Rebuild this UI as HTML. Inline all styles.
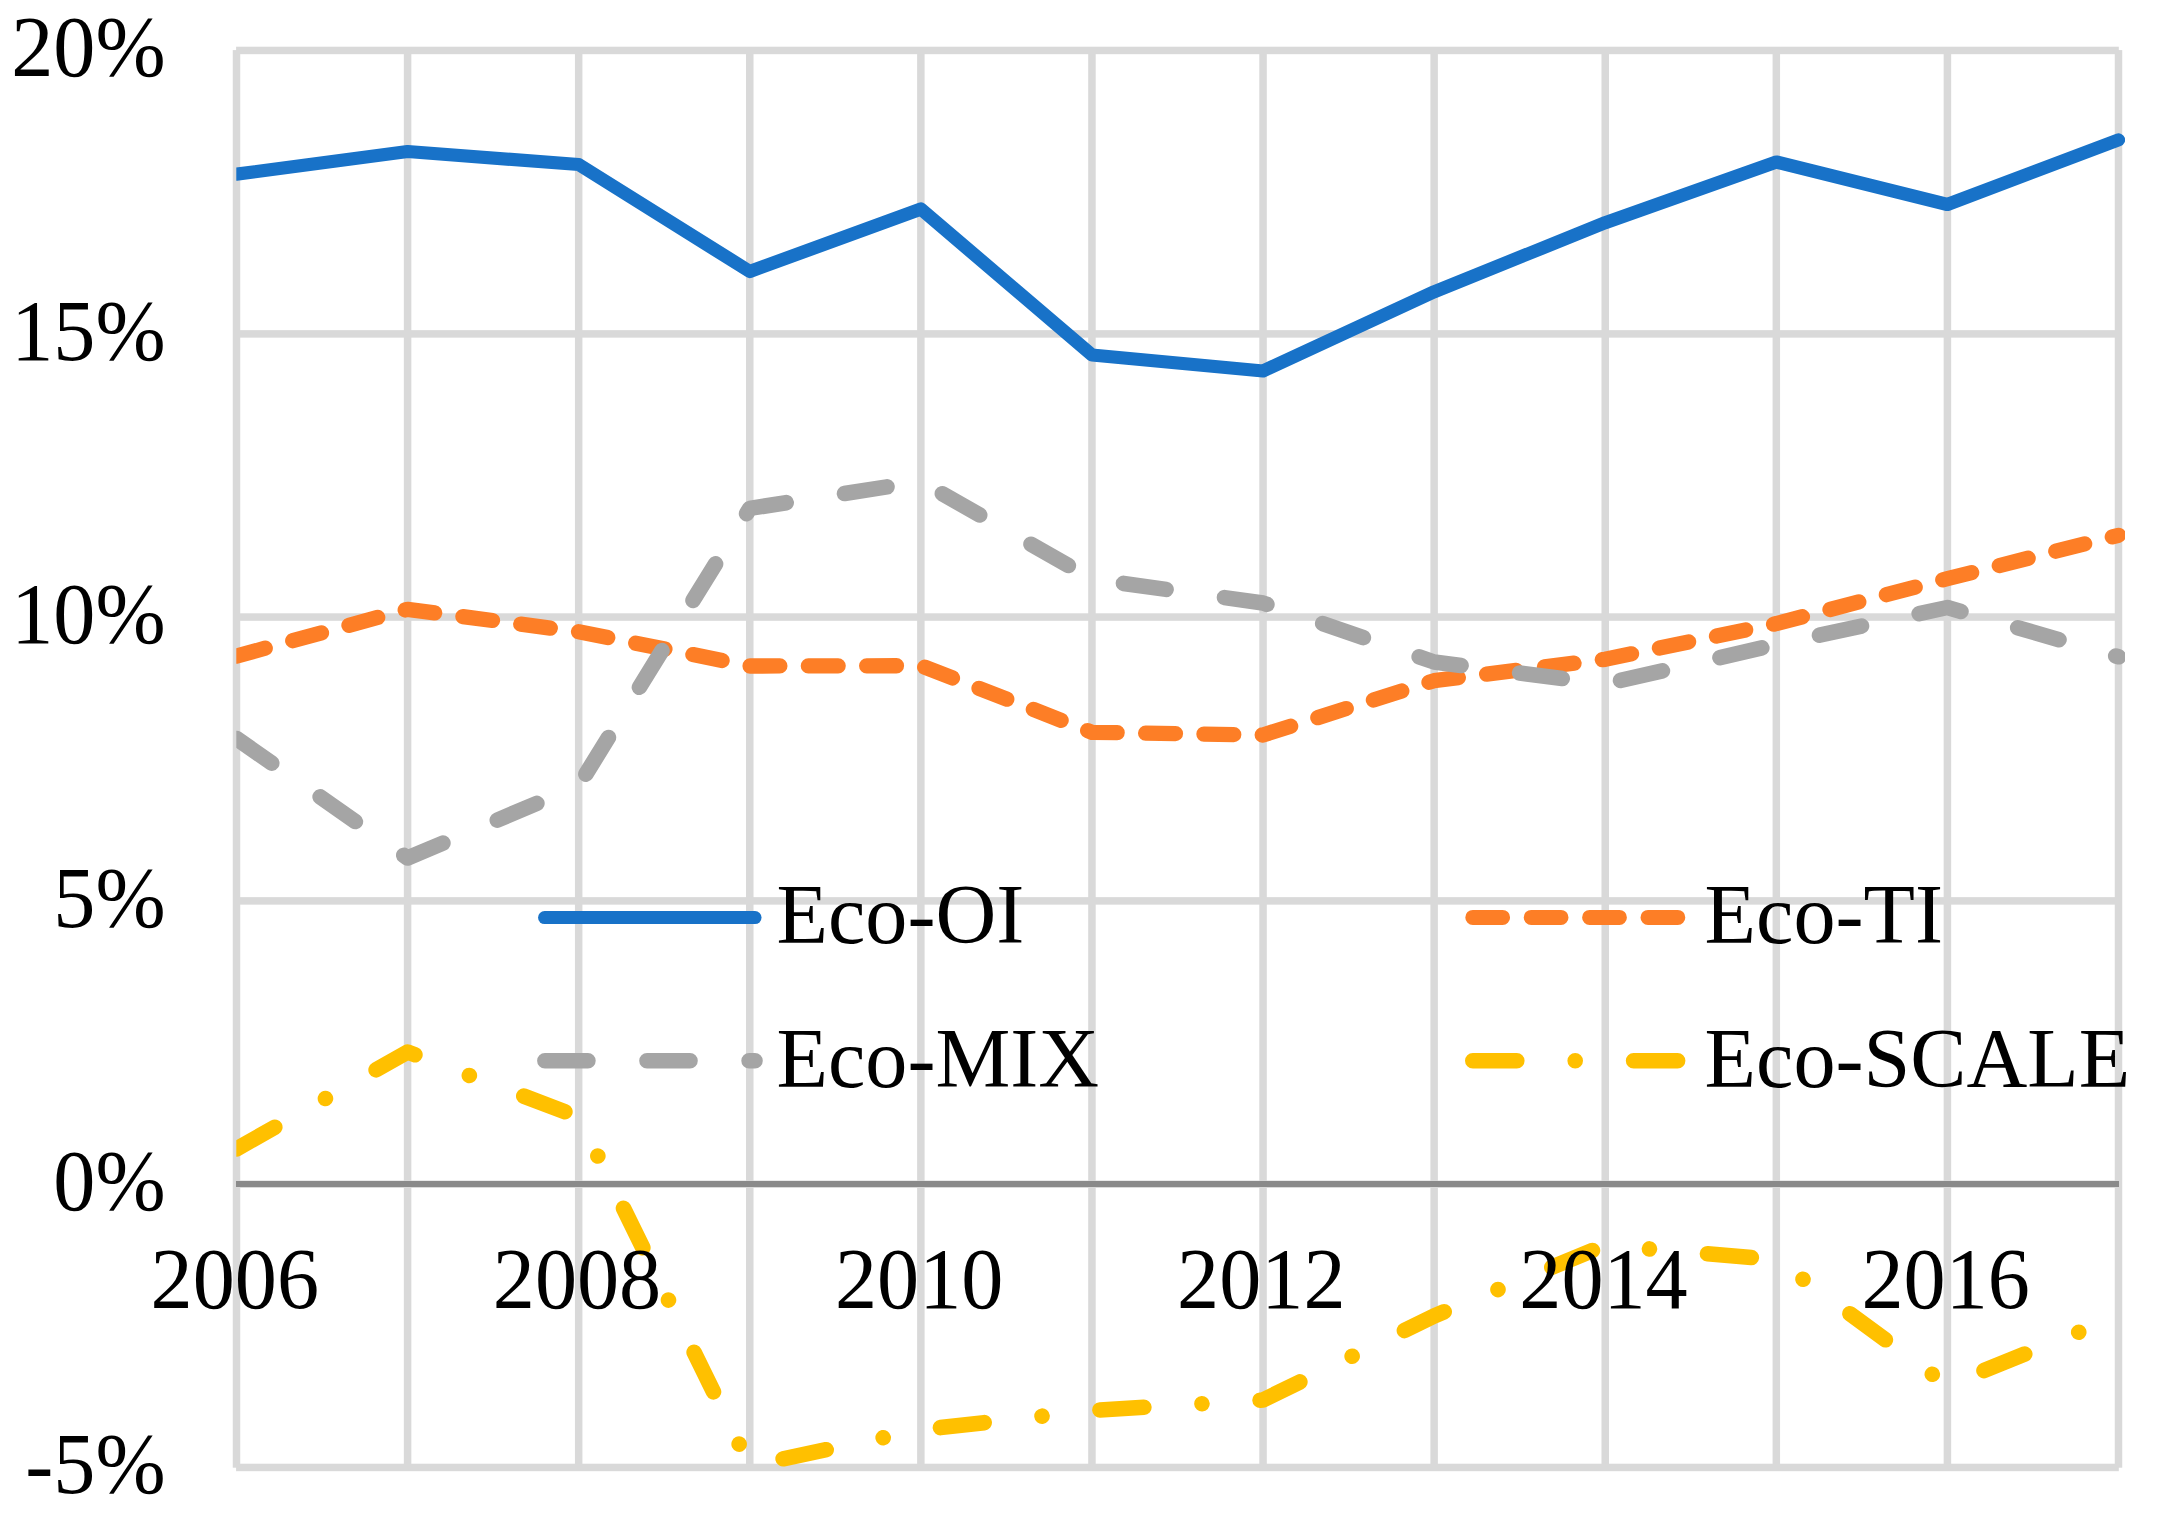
<!DOCTYPE html>
<html lang="en"><head><meta charset="utf-8"><title>Eco chart</title>
<style>
html,body{margin:0;padding:0;background:#fff;}
body{width:2158px;height:1516px;overflow:hidden;}
svg{display:block;}
text{font-family:"Liberation Serif","Times New Roman",serif;font-size:84.2px;fill:#000;}
.s{fill:none;stroke-linecap:round;stroke-linejoin:round;}
</style></head><body>
<svg width="2158" height="1516" viewBox="0 0 2158 1516">
<defs><clipPath id="pc"><rect x="236.3" y="0" width="1888.7" height="1516"/></clipPath></defs>
<rect width="2158" height="1516" fill="#fff"/>
<g fill="#D9D9D9">
<rect x="236.1" y="46.70" width="1882.7" height="7.50"/>
<rect x="236.1" y="330.15" width="1882.7" height="7.50"/>
<rect x="236.1" y="613.30" width="1882.7" height="7.50"/>
<rect x="236.1" y="897.15" width="1882.7" height="7.50"/>
<rect x="236.1" y="1180.45" width="1882.7" height="7.50"/>
<rect x="236.1" y="1463.70" width="1882.7" height="7.50"/>
<rect x="232.75" y="50.1" width="7.5" height="1417.6"/>
<rect x="403.84" y="50.1" width="7.5" height="1417.6"/>
<rect x="574.93" y="50.1" width="7.5" height="1417.6"/>
<rect x="746.02" y="50.1" width="7.5" height="1417.6"/>
<rect x="917.11" y="50.1" width="7.5" height="1417.6"/>
<rect x="1088.20" y="50.1" width="7.5" height="1417.6"/>
<rect x="1259.30" y="50.1" width="7.5" height="1417.6"/>
<rect x="1430.39" y="50.1" width="7.5" height="1417.6"/>
<rect x="1601.48" y="50.1" width="7.5" height="1417.6"/>
<rect x="1772.57" y="50.1" width="7.5" height="1417.6"/>
<rect x="1943.66" y="50.1" width="7.5" height="1417.6"/>
<rect x="2114.75" y="50.1" width="7.5" height="1417.6"/>
</g>
<rect x="236" y="1181" width="1883" height="6" fill="#8A8A8A"/>
<g clip-path="url(#pc)">
<polyline class="s" stroke="#1872C8" stroke-width="13.2" points="236.5,174.2 407.6,151.5 578.7,164.5 749.8,271.5 920.9,209.0 1092.0,355.0 1263.0,371.0 1434.1,291.8 1605.2,222.7 1776.3,162.0 1947.4,204.5 2118.5,139.9"/>
<polyline class="s" stroke="#FD7E26" stroke-width="15.3" stroke-dasharray="29.8 28.5" points="236.5,656.1 407.6,609.3 578.7,631.8 749.8,666.0 920.9,665.7 1092.0,732.3 1263.0,735.0 1434.1,680.7 1605.2,659.3 1776.3,623.6 1947.4,578.7 2118.5,535.3"/>
<polyline class="s" stroke="#A5A5A5" stroke-width="15.6" stroke-dasharray="43 59.02" points="236.5,738.5 407.6,858.0 578.7,785.7 749.8,508.4 920.9,481.5 1092.0,579.0 1263.0,603.0 1434.1,662.0 1605.2,684.0 1776.3,644.6 1947.4,607.5 2118.5,656.8"/>
<polyline class="s" stroke="#FFC000" stroke-width="15.6" stroke-dasharray="44 58.22 0.01 58.22" points="236.5,1148.9 407.6,1052.0 578.7,1117.0 749.8,1465.8 920.9,1429.8 1092.0,1410.5 1263.0,1400.0 1434.1,1316.0 1605.2,1245.2 1776.3,1259.6 1947.4,1385.4 2118.5,1316.1"/>
</g>
<line class="s" stroke="#1872C8" stroke-width="13.1" x1="544.6" y1="917.55" x2="755" y2="917.55"/>
<line class="s" stroke="#FD7E26" stroke-width="15" stroke-dasharray="29.8 28.6" x1="1472.8" y1="917.4" x2="1682.9" y2="917.4"/>
<line class="s" stroke="#A5A5A5" stroke-width="15.6" stroke-dasharray="43 59.1" x1="544.9" y1="1060.8" x2="755" y2="1060.8"/>
<line class="s" stroke="#FFC000" stroke-width="15.6" stroke-dasharray="44 58.4 0.01 58.4" x1="1472.8" y1="1060.8" x2="1682.9" y2="1060.8"/>
<text transform="translate(165.6,76.0) scale(1,1.028)" text-anchor="end">20%</text>
<text transform="translate(165.6,359.5) scale(1,1.028)" text-anchor="end">15%</text>
<text transform="translate(165.6,642.5) scale(1,1.028)" text-anchor="end">10%</text>
<text transform="translate(165.6,926.5) scale(1,1.028)" text-anchor="end">5%</text>
<text transform="translate(165.6,1210.0) scale(1,1.028)" text-anchor="end">0%</text>
<text transform="translate(165.6,1493.0) scale(1,1.028)" text-anchor="end">-5%</text>
<text transform="translate(234.8,1308.3) scale(1,1.018)" text-anchor="middle">2006</text>
<text transform="translate(577.0,1308.3) scale(1,1.018)" text-anchor="middle">2008</text>
<text transform="translate(919.2,1308.3) scale(1,1.018)" text-anchor="middle">2010</text>
<text transform="translate(1261.3,1308.3) scale(1,1.018)" text-anchor="middle">2012</text>
<text transform="translate(1603.5,1308.3) scale(1,1.018)" text-anchor="middle">2014</text>
<text transform="translate(1945.7,1308.3) scale(1,1.018)" text-anchor="middle">2016</text>
<text x="776.5" y="943">Eco-OI</text>
<text x="1704.6" y="943">Eco-TI</text>
<text x="776.5" y="1087">Eco-MIX</text>
<text x="1704.6" y="1087">Eco-SCALE</text>
</svg></body></html>
